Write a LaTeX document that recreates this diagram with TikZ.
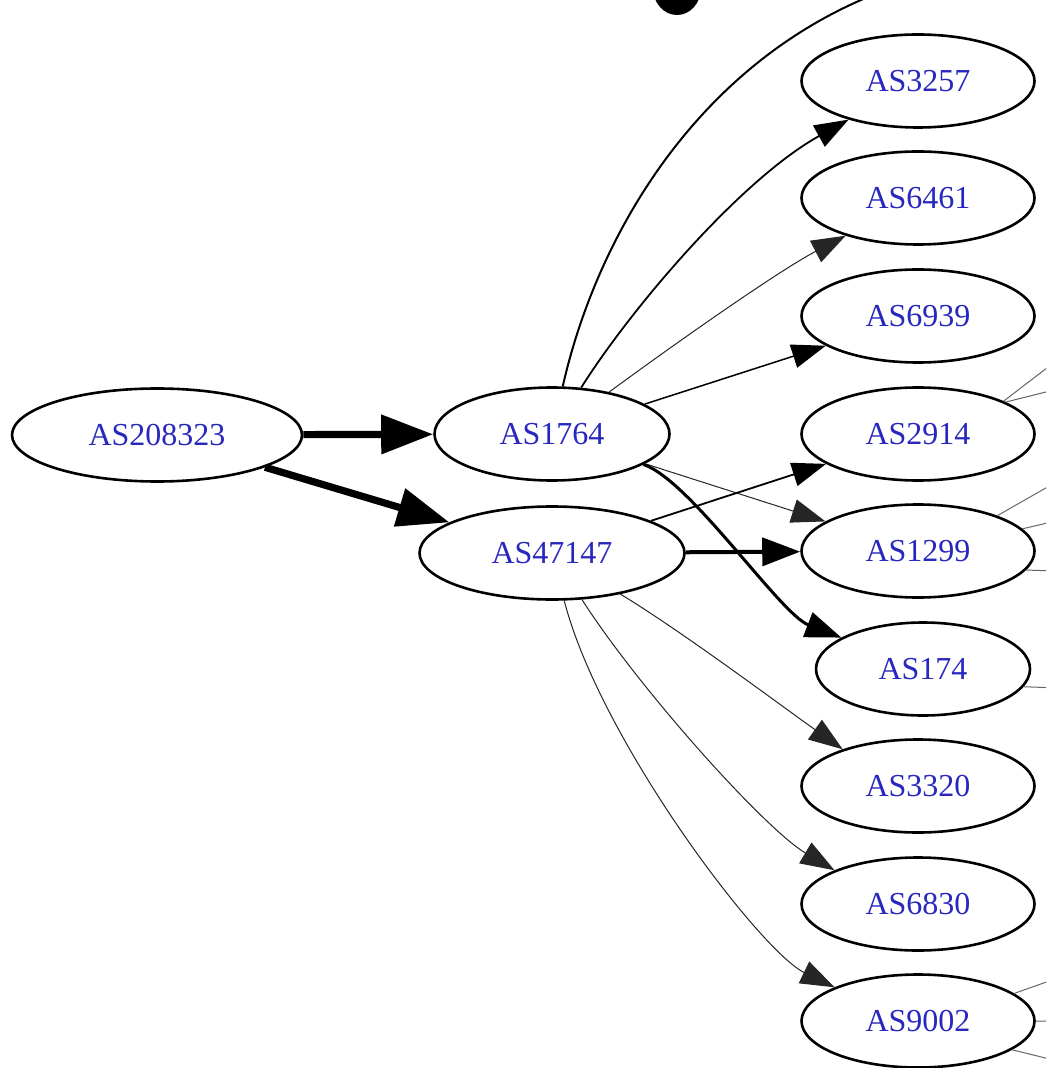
\documentclass[tikz,border=0pt]{standalone}
\usepackage{fontspec}
\setmainfont{Liberation Serif}
\usetikzlibrary{shapes.geometric,arrows.meta}
\definecolor{lbl}{RGB}{40,40,190}
\begin{document}
\begin{tikzpicture}[x=0.5pt,y=-0.5pt,
  asnode/.style={ellipse,draw=black,line width=1.3pt,inner sep=0pt,text=lbl,
    font=\fontsize{16}{18}\selectfont,minimum height=46.5pt},
  colnode/.style={asnode,minimum width=116.5pt},
  thinedge/.style={-{Triangle[length=17pt,width=12pt]},line width=0.5pt,draw=black!85},
  midedge/.style={-{Triangle[length=17pt,width=12pt]},line width=0.9pt},
  heavyedge/.style={-{Triangle[length=26pt,width=19pt]},line width=3.6pt},
  stubedge/.style={line width=0.5pt,draw=black!60}]
\useasboundingbox (0,0) rectangle (1046,1068);
\clip (0,0) rectangle (1046,1068);
\fill[white] (0,0) rectangle (1046,1068);

% partial filled shape at top
\fill[black] (677,-12) ellipse [x radius=12pt, y radius=13.5pt];

% nodes
\node[asnode,minimum width=145pt] (n208323) at (157,435) {AS208323};
\node[asnode,minimum width=117.5pt] (n1764) at (552,434) {AS1764};
\node[asnode,minimum width=132.5pt] (n47147) at (552,553) {AS47147};
\node[colnode] (n3257) at (918,81) {AS3257};
\node[colnode] (n6461) at (918,198) {AS6461};
\node[colnode] (n6939) at (918,316) {AS6939};
\node[colnode] (n2914) at (918,434) {AS2914};
\node[colnode] (n1299) at (918,551) {AS1299};
\node[asnode,minimum width=107pt] (n174) at (923,669) {AS174};
\node[colnode] (n3320) at (918,786) {AS3320};
\node[colnode] (n6830) at (918,904) {AS6830};
\node[colnode] (n9002) at (918,1021) {AS9002};

% off-canvas endpoints
\coordinate (offtop) at (900,-15);
\coordinate (r2914a) at (1086,338);
\coordinate (r2914b) at (1086,382);
\coordinate (r1299a) at (1086,465);
\coordinate (r1299b) at (1086,514);
\coordinate (r1299c) at (1086,572);
\coordinate (r174) at (1086,689);
\coordinate (r9002a) at (1086,968);
\coordinate (r9002b) at (1086,1022);
\coordinate (r9002c) at (1086,1068);

% heavy edges
\draw[heavyedge] (n208323) -- (n1764);
\draw[heavyedge] (n208323) -- (n47147);
\draw[-{Triangle[length=19pt,width=14pt]},line width=2pt] (n47147) -- (n1299);

% edges from AS1764
\draw[line width=1pt] (n1764) .. controls (598,230) and (705,50) .. (offtop);
\draw[-{Triangle[length=17pt,width=12pt]},line width=0.9pt] (n1764) .. controls (630,310) and (740,180) .. (n3257);
\draw[thinedge] (n1764) .. controls (680,340) and (780,270) .. (n6461);
\draw[-{Triangle[length=17pt,width=12pt]},line width=0.75pt] (n1764) -- (n6939);
\draw[thinedge] (n1764) -- (n1299);
\draw[-{Triangle[length=18pt,width=13pt]},line width=1.5pt] (n1764) .. controls (690,480) and (780,614) .. (n174);

% edges from AS47147
\draw[midedge] (n47147) -- (n2914);
\draw[thinedge] (n47147) .. controls (680,630) and (783,707) .. (n3320.154);
\draw[thinedge] (n47147) .. controls (640,690) and (765,829) .. (n6830.158);
\draw[thinedge] (n47147) .. controls (600,740) and (760,951) .. (n9002.158);

% edges leaving the picture on the right
\draw[stubedge] (n2914.21) -- (r2914a);
\draw[stubedge] (n2914.20) -- (r2914b);
\draw[stubedge] (n1299.24) -- (r1299a);
\draw[stubedge] (n1299.12) -- (r1299b);
\draw[stubedge] (n1299.-10) -- (r1299c);
\draw[stubedge] (n174.-10) -- (r174);
\draw[stubedge] (n9002.16) -- (r9002a);
\draw[stubedge] (n9002.east) -- (r9002b);
\draw[stubedge] (n9002.-17) -- (r9002c);
\end{tikzpicture}
\end{document}
